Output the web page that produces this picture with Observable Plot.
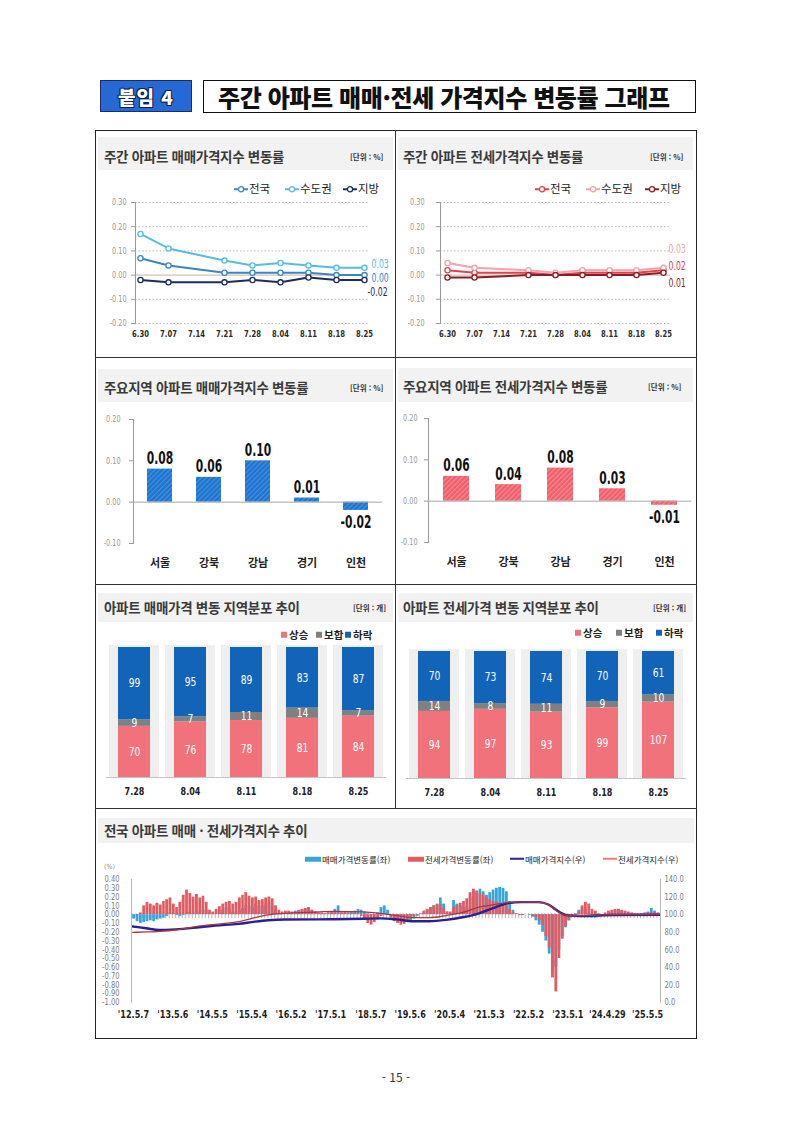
<!DOCTYPE html>
<html lang="ko">
<head>
<meta charset="utf-8">
<title>주간 아파트 매매·전세 가격지수 변동률 그래프</title>
<script src="https://cdn.jsdelivr.net/npm/d3@7"></script>
<script src="https://cdn.jsdelivr.net/npm/@observablehq/plot@0.6"></script>
<style>
html,body{margin:0;padding:0;background:#fff;}
#page{position:relative;width:793px;height:1121px;overflow:hidden;font-family:"Noto Sans CJK KR","Noto Sans",sans-serif;color:#222;}
.a{position:absolute;white-space:nowrap;line-height:1;}
.ptitle{position:absolute;white-space:nowrap;font-size:13.5px;font-weight:700;color:#3a3a3a;letter-spacing:-0.3px;line-height:1;transform:translateY(-50%);}
.unit{position:absolute;white-space:nowrap;font-size:7.5px;font-weight:700;color:#333;line-height:1;transform:translateY(-50%);}
.leg{position:absolute;white-space:nowrap;display:flex;align-items:center;color:#222;line-height:1;transform:translateY(-50%);}
.plot{position:absolute;}
.plot svg{overflow:visible;}
</style>
</head>
<body>
<div id="page"></div>
<script>
// ================= DATA =================
// weekly line charts (top row)
const weekTicks = ["6.30","7.07","7.14","7.21","7.28","8.04","8.11","8.18","8.25"];
const weekDates = ["6.30","7.07","7.21","7.28","8.04","8.11","8.18","8.25"];
const seriesNames = ["전국","수도권","지방"];
const saleNational = [0.07,0.04,0.01,0.01,0.01,0.01,0.00,0.00];
const saleCapital  = [0.17,0.11,0.06,0.04,0.05,0.04,0.03,0.03];
const saleProvince = [-0.02,-0.03,-0.03,-0.02,-0.03,-0.01,-0.02,-0.02];
const jeonseNational = [0.02,0.01,0.01,0.00,0.01,0.01,0.01,0.02];
const jeonseCapital  = [0.05,0.03,0.02,0.01,0.02,0.02,0.02,0.03];
const jeonseProvince = [-0.01,-0.01,0.00,0.00,0.00,0.00,0.00,0.01];
const lineYTicks = [0.3,0.2,0.1,0,-0.1,-0.2];

// regional bar charts (second row)
const regions = ["서울","강북","강남","경기","인천"];
const saleRegion   = [0.08,0.06,0.10,0.01,-0.02];
const jeonseRegion = [0.06,0.04,0.08,0.03,-0.01];
const barYTicks = [0.2,0.1,0,-0.1];

// regional distribution (third row)
const distWeeks = ["7.28","8.04","8.11","8.18","8.25"];
const distTypes = ["상승","보합","하락"];
const saleRise = [70,76,78,81,84];
const saleFlat = [9,7,11,14,7];
const saleFall = [99,95,89,83,87];
const jeonseRise = [94,97,93,99,107];
const jeonseFlat = [14,8,11,9,10];
const jeonseFall = [70,73,74,70,61];

// long-run trend (bottom) : monthly readings of the weekly change, May 2012 .. Aug 2025
const trendStart = "2012-05-01", trendEnd = "2025-09-01";
const saleChange = [
 -0.05,-0.08,-0.10,-0.09,-0.08,-0.07,-0.08,-0.06,                  // 2012 May-Dec
 -0.05,-0.04,-0.02,0.02,0.01,-0.01,-0.02,-0.01,0.02,0.03,0.02,0.01, // 2013
 0.03,0.05,0.05,0.02,0.01,0.00,0.02,0.05,0.08,0.06,0.03,0.03,       // 2014
 0.05,0.07,0.10,0.10,0.08,0.12,0.10,0.10,0.11,0.13,0.10,0.04,       // 2015
 0.01,0.00,0.00,0.01,0.02,0.04,0.05,0.05,0.06,0.08,0.05,0.02,       // 2016
 0.01,0.01,0.01,0.02,0.03,0.06,0.10,0.02,0.01,0.02,0.03,0.04,       // 2017
 0.06,0.05,0.03,0.01,-0.01,-0.01,0.02,0.08,0.10,0.05,0.00,-0.05,    // 2018
 -0.07,-0.08,-0.09,-0.09,-0.08,-0.05,-0.02,0.00,0.02,0.05,0.08,0.10,// 2019
 0.12,0.19,0.12,0.03,0.01,0.16,0.12,0.10,0.08,0.09,0.20,0.27,       // 2020
 0.27,0.29,0.26,0.22,0.25,0.28,0.30,0.31,0.30,0.26,0.15,0.05,       // 2021
 0.00,-0.01,-0.01,0.00,-0.01,-0.03,-0.07,-0.12,-0.20,-0.30,-0.45,-0.65, // 2022
 -0.60,-0.40,-0.25,-0.15,-0.07,-0.02,0.01,0.05,0.08,0.06,0.01,-0.04,// 2023
 -0.04,-0.03,-0.02,-0.01,0.01,0.02,0.05,0.06,0.04,0.02,0.00,-0.01,  // 2024
 -0.01,0.00,0.01,0.02,0.03,0.07,0.04,0.01                           // 2025 Jan-Aug
];
const jeonseChange = [
 0.00,-0.01,0.02,0.10,0.14,0.12,0.10,0.13,                          // 2012 May-Dec
 0.11,0.15,0.17,0.19,0.12,0.08,0.14,0.22,0.28,0.24,0.20,0.23,       // 2013
 0.19,0.21,0.14,0.05,0.03,0.06,0.09,0.12,0.14,0.15,0.12,0.14,       // 2014
 0.19,0.22,0.25,0.21,0.19,0.20,0.16,0.17,0.19,0.20,0.18,0.10,       // 2015
 0.05,0.03,0.04,0.04,0.03,0.03,0.04,0.06,0.07,0.08,0.05,0.03,       // 2016
 0.02,0.02,0.01,0.02,0.02,0.03,0.02,0.02,0.03,0.02,0.01,0.01,       // 2017
 0.01,-0.02,-0.06,-0.10,-0.12,-0.09,-0.06,-0.02,0.01,-0.01,-0.04,-0.08, // 2018
 -0.10,-0.12,-0.11,-0.08,-0.04,-0.02,-0.01,0.01,0.04,0.06,0.08,0.10,// 2019
 0.11,0.12,0.07,0.03,0.03,0.08,0.10,0.13,0.15,0.18,0.25,0.29,       // 2020
 0.26,0.24,0.22,0.20,0.17,0.15,0.14,0.13,0.12,0.10,0.06,0.02,       // 2021
 0.01,-0.01,-0.01,0.00,0.00,-0.02,-0.03,-0.07,-0.12,-0.25,-0.38,-0.72, // 2022
 -0.88,-0.50,-0.28,-0.14,-0.07,-0.03,-0.01,0.03,0.10,0.14,0.12,0.06,// 2023
 0.04,0.01,0.00,0.02,0.04,0.05,0.06,0.06,0.05,0.04,0.03,0.02,       // 2024
 0.01,0.01,0.01,0.01,0.02,0.02,0.02,0.02                            // 2025 Jan-Aug
];
const indexDates = ["2012-05","2012-09","2013-01","2013-06","2014-01","2014-06","2015-01","2015-06","2015-10","2016-03","2017-01","2017-06","2018-03","2018-08","2019-01","2019-06","2019-11","2020-04","2020-09","2021-02","2021-07","2021-11","2022-03","2022-08","2022-11","2023-01","2023-03","2023-05","2023-09","2024-06","2025-08-25"];
const saleIndex   = [86.5,84.5,82.5,83.2,85.6,87.5,89.5,92.0,93.6,94.5,94.6,94.8,95.3,95.8,94.6,92.5,92.5,94.0,97.0,101.5,108.4,113.2,114.3,114.2,111.5,106.5,101.8,99.2,98.3,99.6,99.8];
const jeonseIndex = [79.8,80.3,81.0,82.5,87.0,89.0,92.0,96.5,99.8,101.5,103.0,103.8,103.2,101.5,99.0,96.5,96.5,99.0,102.5,108.5,111.8,114.0,114.6,114.4,111.5,105.5,101.0,99.2,99.0,100.0,100.2];
const trendTickLabels = ["'12.5.7","'13.5.6","'14.5.5","'15.5.4","'16.5.2","'17.5.1","'18.5.7","'19.5.6","'20.5.4","'21.5.3","'22.5.2","'23.5.1","'24.4.29","'25.5.5"];
const leftAxisTicks = [0.40,0.30,0.20,0.10,0.00,-0.10,-0.20,-0.30,-0.40,-0.50,-0.60,-0.70,-0.80,-0.90,-1.00];
const rightAxisTicks = [140,120,100,80,60,40,20,0];

// ================= STYLE =================
const NUM = '"Liberation Sans Narrow","DejaVu Sans Condensed","Roboto Condensed","Liberation Sans",sans-serif';
const KR = '"Noto Sans CJK KR","Noto Sans",sans-serif';
const saleColors = ["#3a86c2","#55bddd","#1e2c5c"];
const jeonseColors = ["#e0414c","#f4a1a9","#8a1c24"];
const distColors = ["#f2727c","#808080","#1264b8"];

const page = document.getElementById("page");
function el(tag, cls, x, y, html, css) {
  const e = document.createElement(tag);
  if (cls) e.className = cls;
  e.style.left = x + "px"; e.style.top = y + "px";
  if (css) Object.assign(e.style, css);
  if (html != null) e.innerHTML = html;
  page.appendChild(e);
  return e;
}
function box(x, y, w, h, css) {
  return el("div", "a", x, y, null, Object.assign({width: w + "px", height: h + "px"}, css));
}
function placePlot(svg, x, y) {
  const wrap = el("div", "plot", x, y);
  wrap.appendChild(svg);
  return svg;
}
// narrow the digits (the reference uses a condensed face that is not installed)
function condense(svg, sel, f) {
  svg.querySelectorAll(sel).forEach(t => {
    if (/[\u3131-\uD79D]/.test(t.textContent)) return;
    const w = t.getComputedTextLength();
    if (w > 0) { t.setAttribute("textLength", (w * f).toFixed(2)); t.setAttribute("lengthAdjust", "spacingAndGlyphs"); }
  });
}
const AX = 'g[aria-label$="tick label"] text';
const TX = 'g[aria-label="text"] text';

// ================= HEADER / FRAME =================
box(100, 80, 92, 32, {background: "#2669d4", border: "1.5px solid #12306e", boxSizing: "border-box",
  display: "flex", alignItems: "center", justifyContent: "center", color: "#fff", fontSize: "19px",
  fontWeight: "900", letterSpacing: "1px", textShadow: "1px 1px 0 #0b2050,-1px -1px 0 #0b2050,1px -1px 0 #0b2050,-1px 1px 0 #0b2050"}).textContent = "붙임 4";
const tb = box(203, 80, 493, 33, {border: "1.5px solid #111", boxSizing: "border-box", display: "flex",
  alignItems: "center", paddingLeft: "14px", fontSize: "24px", fontWeight: "900", color: "#111", letterSpacing: "-0.4px"});
tb.textContent = "주간 아파트 매매·전세 가격지수 변동률 그래프";

box(95, 130, 602, 909, {border: "1.5px solid #222", boxSizing: "border-box"});
box(394.5, 130, 1.5, 678, {background: "#333"});
box(95, 356.5, 602, 1.5, {background: "#333"});
box(95, 583.5, 602, 1.5, {background: "#333"});
box(95, 807.5, 602, 1.5, {background: "#333"});

function panelHead(x, bandY, bandH, title, titleX, titleY, unit, unitX) {
  box(x, bandY, 295, bandH, {background: "#f2f2f2"});
  el("div", "ptitle", titleX, titleY, title);
  el("div", "unit", unitX, titleY, unit);
}
panelHead(98, 137, 33, "주간 아파트 매매가격지수 변동률", 104, 157, "[단위 : %]", 350);
panelHead(398, 137, 33, "주간 아파트 전세가격지수 변동률", 403, 157, "[단위 : %]", 650);
panelHead(98, 369, 33, "주요지역 아파트 매매가격지수 변동률", 104, 388, "[단위 : %]", 350);
panelHead(398, 368, 34, "주요지역 아파트 전세가격지수 변동률", 403, 387, "[단위 : %]", 648);
panelHead(98, 593, 29, "아파트 매매가격 변동 지역분포 추이", 104, 608, "[단위 : 개]", 353);
panelHead(398, 593, 29, "아파트 전세가격 변동 지역분포 추이", 403, 608, "[단위 : 개]", 653);
box(98, 818, 596, 25, {background: "#f2f2f2"});
el("div", "ptitle", 104, 831, "전국 아파트 매매 · 전세가격지수 추이");

// legends
function lineLegend(x, y, color, label) {
  el("div", "leg", x, y,
    `<svg width="14" height="8" style="margin-right:1px"><line x1="0" y1="4" x2="14" y2="4" stroke="${color}" stroke-width="2"/><circle cx="7" cy="4" r="2.6" fill="#fff" stroke="${color}" stroke-width="1.3"/></svg><span>${label}</span>`,
    {fontSize: "11.5px"});
}
[234, 285, 343].forEach((x, i) => lineLegend(x, 189, saleColors[i], seriesNames[i]));
[535, 586, 645].forEach((x, i) => lineLegend(x, 189, jeonseColors[i], seriesNames[i]));
function squareLegend(xs, y) {
  xs.forEach((x, i) => el("div", "leg", x, y,
    `<span style="display:inline-block;width:6px;height:6px;background:${distColors[i]};margin-right:2px"></span><span>${distTypes[i]}</span>`,
    {fontSize: "10.5px", fontWeight: "700"}));
}
squareLegend([281, 316, 345], 635);
squareLegend([575, 616, 656], 633);

// ================= ROW 1 : weekly lines =================
function weeklyLine(values, colors, geom, endOffsets) {
  const data = [];
  values.forEach((arr, s) => arr.forEach((v, i) => data.push({w: weekDates[i], s: seriesNames[s], v})));
  const last = seriesNames.map((s, k) => ({w: weekDates[weekDates.length - 1], s, v: values[k][values[k].length - 1]}));
  const fmt = v => (v < 0 ? "-" : "") + Math.abs(v).toFixed(2);
  return Plot.plot({
    width: 300, height: 155, marginTop: 12, marginBottom: 22, marginLeft: geom.ml, marginRight: geom.mr,
    style: {fontFamily: NUM, fontSize: "9px", background: "transparent", overflow: "visible"},
    x: {type: "point", domain: weekTicks, padding: geom.pad},
    y: {domain: [-0.2, 0.3]},
    color: {domain: seriesNames, range: colors},
    marks: [
      Plot.gridY(lineYTicks.filter(d => d !== 0), {stroke: "#b8b8b8", strokeOpacity: 1, strokeDasharray: "1.5,2"}),
      Plot.ruleY([0], {stroke: "#c9b3aa", strokeWidth: 1}),
      Plot.frame({anchor: "left", stroke: "#9a9a9a"}),
      Plot.axisY({ticks: lineYTicks, tickFormat: d => d.toFixed(2), tickSize: 4, tickPadding: geom.tp, color: "#999", fontSize: 9, label: null}),
      Plot.axisX({tickSize: 0, tickPadding: 7, color: "#2a2a2a", fontSize: 9.5, fontWeight: "bold", label: null}),
      Plot.line(data, {x: "w", y: "v", z: "s", stroke: "s", strokeWidth: 2}),
      Plot.dot(data, {x: "w", y: "v", stroke: "s", fill: "#fff", r: 2.6, strokeWidth: 1.3}),
      ...last.map((d, k) => Plot.text([d], {x: "w", y: "v", text: d => fmt(d.v), fill: "s",
        textAnchor: "start", dx: endOffsets[k][0], dy: endOffsets[k][1], fontSize: 12}))
    ]
  });
}
const p1 = placePlot(weeklyLine([saleNational, saleCapital, saleProvince], saleColors,
  {ml: 40, mr: 27, pad: 0.095, tp: 5}, [[7, 3], [7, -4], [3, 12]]), 95, 190);
const p2 = placePlot(weeklyLine([jeonseNational, jeonseCapital, jeonseProvince], jeonseColors,
  {ml: 45, mr: 25, pad: 0.18, tp: 12}, [[5, -4], [5, -19], [5, 10]]), 395, 190);
[p1, p2].forEach(s => { condense(s, AX, 0.8); condense(s, TX, 0.72); });

// ================= ROW 2 : regional bars =================
function addHatch(svg, id, base, stripe) {
  const ns = "http://www.w3.org/2000/svg";
  const defs = document.createElementNS(ns, "defs");
  defs.innerHTML = `<pattern id="${id}" width="3.5" height="3.5" patternUnits="userSpaceOnUse" patternTransform="rotate(45)"><rect width="3.5" height="3.5" fill="${base}"/><rect width="1.2" height="3.5" fill="${stripe}"/></pattern>`;
  svg.insertBefore(defs, svg.firstChild);
}
function regionBars(values, fillId, geom) {
  const data = regions.map((r, i) => ({r, v: values[i]}));
  return Plot.plot({
    width: 300, height: 175, marginTop: geom.mt, marginBottom: 175 - geom.mt - 124, marginLeft: geom.ml, marginRight: geom.mr,
    style: {fontFamily: NUM, fontSize: "9px", background: "transparent", overflow: "visible"},
    x: {domain: regions, paddingInner: 0.5, paddingOuter: 0.25},
    y: {domain: [-0.1, 0.2]},
    marks: [
      Plot.frame({anchor: "left", stroke: "#9a9a9a"}),
      Plot.axisY({ticks: barYTicks, tickFormat: d => d.toFixed(2), tickSize: 4, tickPadding: geom.tp, color: "#999", fontSize: 9, label: null}),
      Plot.axisX({tickSize: 0, tickPadding: 16, color: "#222", fontSize: 11, fontFamily: KR, fontWeight: "bold", label: null}),
      Plot.barY(data, {x: "r", y: "v", fill: `url(#${fillId})`}),
      Plot.ruleY([0], {stroke: "#a8a8a8"}),
      Plot.text(data.filter(d => d.v >= 0), {x: "r", y: "v", text: d => d.v.toFixed(2), lineAnchor: "bottom", dy: -5, fontSize: 18, fontWeight: "bold", fill: "#111"}),
      Plot.text(data.filter(d => d.v < 0), {x: "r", y: "v", text: d => "-" + Math.abs(d.v).toFixed(2), lineAnchor: "top", dy: 5, fontSize: 18, fontWeight: "bold", fill: "#111"})
    ]
  });
}
const p3 = placePlot(regionBars(saleRegion, "hatchBlue", {mt: 14, ml: 38, mr: 13, tp: 9}), 95, 405);
addHatch(p3, "hatchBlue", "#1e74cf", "#4390de");
const p4 = placePlot(regionBars(jeonseRegion, "hatchRed", {mt: 13, ml: 33, mr: 3.75, tp: 7}), 395, 405);
addHatch(p4, "hatchRed", "#f0606b", "#f58790");
[p3, p4].forEach(s => { condense(s, AX, 0.8); condense(s, TX, 0.66); });

// ================= ROW 3 : distribution stacks =================
function distStack(rise, flat, fall, mt, plotH) {
  const data = [];
  distWeeks.forEach((d, i) => {
    data.push({d, type: distTypes[0], v: rise[i]});
    data.push({d, type: distTypes[1], v: flat[i]});
    data.push({d, type: distTypes[2], v: fall[i]});
  });
  const totals = distWeeks.map((d, i) => ({d, total: rise[i] + flat[i] + fall[i]}));
  const h = 165;
  return Plot.plot({
    width: 300, height: h, marginTop: mt, marginBottom: h - mt - plotH, marginLeft: 11, marginRight: 9,
    style: {fontFamily: NUM, fontSize: "10px", background: "transparent", overflow: "visible"},
    x: {domain: distWeeks, paddingInner: 0.4286, paddingOuter: 0.2143},
    y: {domain: [0, d3.max(totals, t => t.total)], axis: null},
    color: {domain: distTypes, range: distColors},
    marks: [
      Plot.barY(totals, {x: "d", y: "total", fill: "#efefef", insetLeft: -9, insetRight: -9, insetTop: -2}),
      Plot.ruleY([0], {stroke: "#c4c4c4"}),
      Plot.barY(data, {x: "d", y: "v", fill: "type", order: distTypes}),
      Plot.text(data, Plot.stackY({x: "d", y: "v", z: "type", order: distTypes, text: d => String(d.v), fill: "#fff", fontSize: 12})),
      Plot.axisX({tickSize: 0, tickPadding: 10, color: "#222", fontSize: 10.5, fontWeight: "bold", label: null})
    ]
  });
}
const p5 = placePlot(distStack(saleRise, saleFlat, saleFall, 7, 130), 95, 640);
const p6 = placePlot(distStack(jeonseRise, jeonseFlat, jeonseFall, 11, 127), 395, 640);
[p5, p6].forEach(s => { condense(s, AX, 0.85); condense(s, TX, 0.85); });

// ================= ROW 4 : long-run trend =================
const months = d3.utcMonth.range(new Date(trendStart), new Date(trendEnd));
const barData = months.map((m, i) => ({m, m2: d3.utcMonth.offset(m, 1), sale: saleChange[i], jeonse: jeonseChange[i]}));
const idxData = indexDates.map((d, i) => ({d: new Date(d), sale: saleIndex[i], jeonse: jeonseIndex[i]}));
const toLeft = v => v / 100 - 1;           // right axis (index) -> left axis (%)
const tickDates = trendTickLabels.map(s => {
  const [yy, mm, dd] = s.slice(1).split(".").map(Number);
  return new Date(Date.UTC(2000 + yy, mm - 1, dd));
});
const tickLabelMap = new Map(tickDates.map((d, i) => [+d, trendTickLabels[i]]));

el("div", "a", 104, 864, "(%)", {fontSize: "7px", color: "#888", fontFamily: NUM});
const bottomLegend = [
  {x: 305, kind: "rect", color: "#35a6dc", label: "매매가격변동률(좌)"},
  {x: 408, kind: "rect", color: "#e15c62", label: "전세가격변동률(좌)"},
  {x: 510, kind: "line", color: "#2a2090", label: "매매가격지수(우)"},
  {x: 603, kind: "line", color: "#e8807f", label: "전세가격지수(우)"}
];
bottomLegend.forEach(it => {
  const sw = it.kind === "rect"
    ? `<span style="display:inline-block;width:16px;height:5px;background:${it.color};margin-right:1px"></span>`
    : `<span style="display:inline-block;width:14px;height:2px;background:${it.color};margin-right:1px"></span>`;
  el("div", "leg", it.x, 859, sw + `<span>${it.label}</span>`, {fontSize: "8.5px"});
});

const trend = Plot.plot({
  width: 600, height: 165, marginTop: 17, marginBottom: 25, marginLeft: 36, marginRight: 35,
  style: {fontFamily: NUM, fontSize: "8.5px", background: "transparent", overflow: "visible"},
  x: {type: "utc", domain: [new Date("2012-04-19"), new Date("2025-09-02")]},
  y: {domain: [-1, 0.4]},
  marks: [
    Plot.ruleX(months, {x: d => d, y1: 0, y2: 0, insetTop: -1, insetBottom: -4, stroke: "#a4a4a4", strokeWidth: 0.8}),
    Plot.rect(barData, {x1: "m", x2: "m2", y1: 0, y2: "sale", fill: "#35a6dc", insetRight: 0.5}),
    Plot.rect(barData, {x1: "m", x2: "m2", y1: 0, y2: "jeonse", fill: "#e15c62", insetRight: 0.5}),
    Plot.line(idxData, {x: "d", y: d => toLeft(d.sale), stroke: "#2a2090", strokeWidth: 2.4, curve: "monotone-x"}),
    Plot.line(idxData, {x: "d", y: d => toLeft(d.jeonse), stroke: "#a63845", strokeWidth: 1.3, curve: "monotone-x"}),
    Plot.frame({anchor: "left", stroke: "#b8b8b8"}),
    Plot.frame({anchor: "right", stroke: "#b8b8b8"}),
    Plot.axisY({anchor: "left", ticks: leftAxisTicks, tickFormat: d => d.toFixed(2), tickSize: 0, tickPadding: 12, color: "#808080", fontSize: 8.5, label: null}),
    Plot.axisY({anchor: "right", ticks: rightAxisTicks.map(toLeft), tickFormat: d => ((d + 1) * 100).toFixed(1), tickSize: 0, tickPadding: 4, color: "#808080", fontSize: 8.5, label: null}),
    Plot.axisX({ticks: tickDates, tickFormat: d => tickLabelMap.get(+d), tickSize: 0, tickPadding: 8, color: "#1f1f1f", fontSize: 10, fontWeight: "bold", label: null})
  ]
});
placePlot(trend, 95, 862);
condense(trend, 'g[aria-label="y-axis tick label"] text', 0.88);
condense(trend, 'g[aria-label="x-axis tick label"] text', 0.9);

// footer
el("div", "a", 396, 1077, "- 15 -", {fontSize: "12px", color: "#333", transform: "translate(-50%,-50%)"});
</script>
</body>
</html>
